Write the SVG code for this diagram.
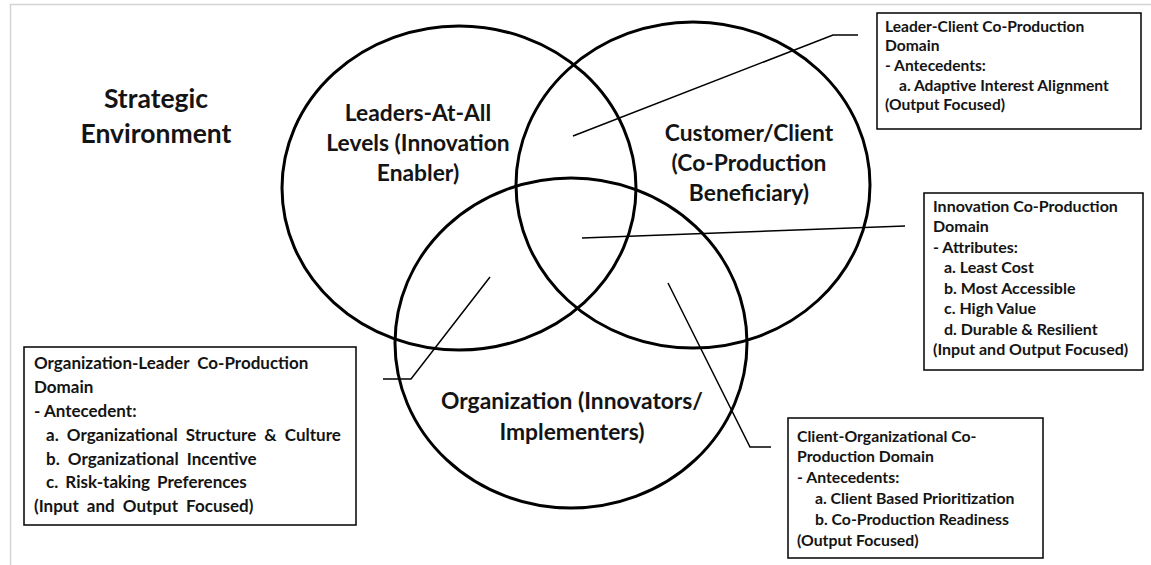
<svg xmlns="http://www.w3.org/2000/svg" width="1151" height="565" viewBox="0 0 1151 565">
<style>
.frame{fill:none;stroke:#d4d4d4;stroke-width:1.5}
.venn{fill:none;stroke:#000;stroke-width:3}
.conn{fill:none;stroke:#000;stroke-width:1.5}
.box{fill:#fff;stroke:#000;stroke-width:1.5}
.big{font-family:Lato,"Liberation Sans",sans-serif;font-weight:700;font-size:22.8px;fill:#141414;text-anchor:middle}
.env{font-family:Lato,"Liberation Sans",sans-serif;font-weight:700;font-size:26.5px;fill:#141414;text-anchor:middle}
.t{font-family:Lato,"Liberation Sans",sans-serif;font-weight:700;font-size:15.6px;fill:#141414}
.t2{font-size:16px}
.t3{font-size:17px}
.t4{font-size:15.8px}
</style>
<rect width="1151" height="565" fill="#fff"/>
<path class="frame" d="M10.5,565 V4.5 H1151"/>
<g id="circles">
<ellipse id="leaders" class="venn" cx="459" cy="188" rx="177" ry="162"/>
<ellipse id="customer" class="venn" cx="693" cy="185" rx="177" ry="163"/>
<ellipse id="organization" class="venn" cx="571" cy="343" rx="176" ry="165"/>
</g>
<g id="connectors">
<polyline class="conn" points="573,136 833,35 858,35"/>
<polyline class="conn" points="582,238 905,226"/>
<polyline class="conn" points="490,277 411,379 383,379"/>
<polyline class="conn" points="668,283 750,447 771,447"/>
</g>
<g id="strategic-env">
<text class="env" x="156" y="108">Strategic</text>
<text class="env" x="156" y="143">Environment</text>
</g>
<g id="leaders-label">
<text class="big" x="418" y="121">Leaders-At-All</text>
<text class="big" x="418" y="151">Levels (Innovation</text>
<text class="big" x="418" y="181">Enabler)</text>
</g>
<g id="customer-label">
<text class="big" x="749" y="141">Customer/Client</text>
<text class="big" x="749" y="171">(Co-Production</text>
<text class="big" x="749" y="201">Beneficiary)</text>
</g>
<g id="organization-label">
<text class="big" x="572" y="409">Organization (Innovators/</text>
<text class="big" x="572" y="440">Implementers)</text>
</g>
<g id="leader-client-box">
<rect class="box" x="877" y="13" width="264" height="116"/>
<text class="t" x="885" y="32">Leader-Client Co-Production</text>
<text class="t" x="885" y="51">Domain</text>
<text class="t" x="885" y="71">- Antecedents:</text>
<text class="t" x="899" y="91">a. Adaptive Interest Alignment</text>
<text class="t" x="885" y="110">(Output Focused)</text>
</g>
<g id="innovation-box" class="t2">
<rect class="box" x="924" y="193" width="219" height="177"/>
<text class="t t2" x="933" y="212">Innovation Co-Production</text>
<text class="t t2" x="933" y="232">Domain</text>
<text class="t t2" x="933" y="253">- Attributes:</text>
<text class="t t2" x="944" y="273">a. Least Cost</text>
<text class="t t2" x="944" y="294">b. Most Accessible</text>
<text class="t t2" x="944" y="314">c. High Value</text>
<text class="t t2" x="944" y="335">d. Durable &amp; Resilient</text>
<text class="t t2" x="933" y="355">(Input and Output Focused)</text>
</g>
<g id="org-leader-box">
<rect class="box" x="24" y="347" width="332" height="178"/>
<text class="t t3" x="34" y="369" word-spacing="4">Organization-Leader Co-Production</text>
<text class="t t3" x="34" y="393">Domain</text>
<text class="t t3" x="34" y="417">- Antecedent:</text>
<text class="t t3" x="46" y="441" word-spacing="4">a. Organizational Structure &amp; Culture</text>
<text class="t t3" x="46" y="465" word-spacing="4">b. Organizational Incentive</text>
<text class="t t3" x="46" y="488" word-spacing="3">c. Risk-taking Preferences</text>
<text class="t t3" x="34" y="512" word-spacing="4">(Input and Output Focused)</text>
</g>
<g id="client-org-box">
<rect class="box" x="788" y="418" width="255" height="140"/>
<text class="t t4" x="797" y="442">Client-Organizational Co-</text>
<text class="t t4" x="797" y="462">Production Domain</text>
<text class="t t4" x="797" y="483">- Antecedents:</text>
<text class="t t4" x="815" y="504">a. Client Based Prioritization</text>
<text class="t t4" x="815" y="525">b. Co-Production Readiness</text>
<text class="t t4" x="797" y="546">(Output Focused)</text>
</g>
</svg>
